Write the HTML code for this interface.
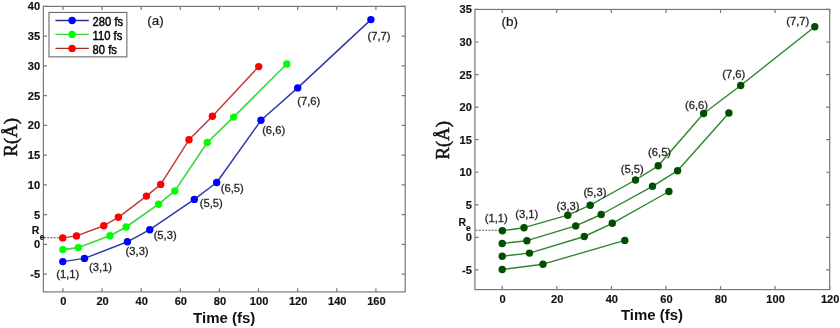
<!DOCTYPE html>
<html><head><meta charset="utf-8"><style>
html,body{margin:0;padding:0;background:#fff;}
body{width:840px;height:328px;overflow:hidden;}
svg{display:block;filter:blur(0.35px);}
text{font-family:"Liberation Sans",sans-serif;}
.tk{font-size:11.1px;font-weight:bold;fill:#111;stroke:#111;stroke-width:0.15px;}
.dl{font-size:11.2px;fill:#262626;stroke:#262626;stroke-width:0.3px;}
.lg{font-size:11.2px;fill:#000;stroke:#000;stroke-width:0.4px;}
.pl{font-size:12.95px;fill:#1a1a1a;stroke:#1a1a1a;stroke-width:0.2px;}
.xl{font-size:15px;font-weight:bold;fill:#111;}
.yl{font-family:"Liberation Serif",serif;font-size:18.7px;fill:#111;stroke:#111;stroke-width:0.5px;}
</style></head><body>
<svg width="840" height="328" viewBox="0 0 840 328">
<rect x="43.35" y="6.4" width="361.85" height="285.5" fill="none" stroke="#787878" stroke-width="1.2"/>
<path d="M62.95 291.9v-3.6M62.95 6.4v3.6M102.07 291.9v-3.6M102.07 6.4v3.6M141.19 291.9v-3.6M141.19 6.4v3.6M180.31 291.9v-3.6M180.31 6.4v3.6M219.43 291.9v-3.6M219.43 6.4v3.6M258.55 291.9v-3.6M258.55 6.4v3.6M297.67 291.9v-3.6M297.67 6.4v3.6M336.79 291.9v-3.6M336.79 6.4v3.6M375.91 291.9v-3.6M375.91 6.4v3.6M43.35 274.15h3.6M405.2 274.15h-3.6M43.35 244.4h3.6M405.2 244.4h-3.6M43.35 214.65h3.6M405.2 214.65h-3.6M43.35 184.9h3.6M405.2 184.9h-3.6M43.35 155.15h3.6M405.2 155.15h-3.6M43.35 125.4h3.6M405.2 125.4h-3.6M43.35 95.65h3.6M405.2 95.65h-3.6M43.35 65.9h3.6M405.2 65.9h-3.6M43.35 36.15h3.6M405.2 36.15h-3.6M43.35 6.4h3.6M405.2 6.4h-3.6" stroke="#787878" stroke-width="1.2" fill="none"/>
<text class="tk" transform="translate(63.45 305.2) scale(1 1.06)" text-anchor="middle">0</text>
<text class="tk" transform="translate(102.57 305.2) scale(1 1.06)" text-anchor="middle">20</text>
<text class="tk" transform="translate(141.69 305.2) scale(1 1.06)" text-anchor="middle">40</text>
<text class="tk" transform="translate(180.81 305.2) scale(1 1.06)" text-anchor="middle">60</text>
<text class="tk" transform="translate(219.93 305.2) scale(1 1.06)" text-anchor="middle">80</text>
<text class="tk" transform="translate(259.05 305.2) scale(1 1.06)" text-anchor="middle">100</text>
<text class="tk" transform="translate(298.17 305.2) scale(1 1.06)" text-anchor="middle">120</text>
<text class="tk" transform="translate(337.29 305.2) scale(1 1.06)" text-anchor="middle">140</text>
<text class="tk" transform="translate(376.41 305.2) scale(1 1.06)" text-anchor="middle">160</text>
<text class="tk" transform="translate(40.1 278.15) scale(1 1.06)" text-anchor="end">-5</text>
<text class="tk" transform="translate(40.1 248.4) scale(1 1.06)" text-anchor="end">0</text>
<text class="tk" transform="translate(40.1 218.65) scale(1 1.06)" text-anchor="end">5</text>
<text class="tk" transform="translate(40.1 188.9) scale(1 1.06)" text-anchor="end">10</text>
<text class="tk" transform="translate(40.1 159.15) scale(1 1.06)" text-anchor="end">15</text>
<text class="tk" transform="translate(40.1 129.4) scale(1 1.06)" text-anchor="end">20</text>
<text class="tk" transform="translate(40.1 99.65) scale(1 1.06)" text-anchor="end">25</text>
<text class="tk" transform="translate(40.1 69.9) scale(1 1.06)" text-anchor="end">30</text>
<text class="tk" transform="translate(40.1 40.15) scale(1 1.06)" text-anchor="end">35</text>
<text class="tk" transform="translate(40.1 10.4) scale(1 1.06)" text-anchor="end">40</text>
<line x1="44" y1="237.8" x2="62" y2="237.8" stroke="#555" stroke-width="1.05" stroke-dasharray="2 1.2"/>
<polyline points="62.8,261.6 84.5,258.4 127.4,241.8 149.8,229.7 194.3,199.4 216.7,182.5 261,120.3 297.7,87.9 370.9,19.6" fill="none" stroke="#2c3aa8" stroke-width="1.45" stroke-linejoin="round"/>
<circle cx="62.8" cy="261.6" r="3.7" fill="#0000ff"/>
<circle cx="84.5" cy="258.4" r="3.7" fill="#0000ff"/>
<circle cx="127.4" cy="241.8" r="3.7" fill="#0000ff"/>
<circle cx="149.8" cy="229.7" r="3.7" fill="#0000ff"/>
<circle cx="194.3" cy="199.4" r="3.7" fill="#0000ff"/>
<circle cx="216.7" cy="182.5" r="3.7" fill="#0000ff"/>
<circle cx="261" cy="120.3" r="3.7" fill="#0000ff"/>
<circle cx="297.7" cy="87.9" r="3.7" fill="#0000ff"/>
<circle cx="370.9" cy="19.6" r="3.7" fill="#0000ff"/>
<polyline points="62.8,249.6 78.4,247.6 110,235.8 126.1,227 158.6,204.2 174.8,190.9 207.3,142.5 233.6,117.1 286.8,64" fill="none" stroke="#3ad83a" stroke-width="1.6" stroke-linejoin="round"/>
<circle cx="62.8" cy="249.6" r="3.7" fill="#00ff00"/>
<circle cx="78.4" cy="247.6" r="3.7" fill="#00ff00"/>
<circle cx="110" cy="235.8" r="3.7" fill="#00ff00"/>
<circle cx="126.1" cy="227" r="3.7" fill="#00ff00"/>
<circle cx="158.6" cy="204.2" r="3.7" fill="#00ff00"/>
<circle cx="174.8" cy="190.9" r="3.7" fill="#00ff00"/>
<circle cx="207.3" cy="142.5" r="3.7" fill="#00ff00"/>
<circle cx="233.6" cy="117.1" r="3.7" fill="#00ff00"/>
<circle cx="286.8" cy="64" r="3.7" fill="#00ff00"/>
<polyline points="62.7,237.9 76.5,235.9 103.8,225.7 118.4,217.3 146.4,196.1 160.7,184.4 189,139.8 212.4,116.2 258.7,66.6" fill="none" stroke="#bf3a3a" stroke-width="1.45" stroke-linejoin="round"/>
<circle cx="62.7" cy="237.9" r="3.7" fill="#ff0000"/>
<circle cx="76.5" cy="235.9" r="3.7" fill="#ff0000"/>
<circle cx="103.8" cy="225.7" r="3.7" fill="#ff0000"/>
<circle cx="118.4" cy="217.3" r="3.7" fill="#ff0000"/>
<circle cx="146.4" cy="196.1" r="3.7" fill="#ff0000"/>
<circle cx="160.7" cy="184.4" r="3.7" fill="#ff0000"/>
<circle cx="189" cy="139.8" r="3.7" fill="#ff0000"/>
<circle cx="212.4" cy="116.2" r="3.7" fill="#ff0000"/>
<circle cx="258.7" cy="66.6" r="3.7" fill="#ff0000"/>
<text class="dl" x="67.7" y="278.35" text-anchor="middle">(1,1)</text>
<text class="dl" x="100.6" y="270.7" text-anchor="middle">(3,1)</text>
<text class="dl" x="137.1" y="254.65" text-anchor="middle">(3,3)</text>
<text class="dl" x="165.15" y="238.8" text-anchor="middle">(5,3)</text>
<text class="dl" x="211.25" y="207.15" text-anchor="middle">(5,5)</text>
<text class="dl" x="232.3" y="192.1" text-anchor="middle">(6,5)</text>
<text class="dl" x="273.65" y="133.55" text-anchor="middle">(6,6)</text>
<text class="dl" x="308.75" y="104.75" text-anchor="middle">(7,6)</text>
<text class="dl" x="379.05" y="39.5" text-anchor="middle">(7,7)</text>
<text class="tk" transform="translate(31.8 233.8) scale(1 1.06)" style="font-size:10.5px">R</text>
<text class="tk" transform="translate(39.8 239.8) scale(1 1.06)" style="font-size:8.5px">e</text>
<rect x="49" y="12.45" width="77.85" height="44.4" fill="#fff" stroke="#6a6a6a" stroke-width="1.1"/>
<line x1="55.4" y1="20.5" x2="88.8" y2="20.5" stroke="#2a3390" stroke-width="1.4"/>
<circle cx="72.1" cy="20.5" r="3.7" fill="#0000ff"/>
<text class="lg" transform="translate(92.6 25.65) scale(1 1.06)">280 fs</text>
<line x1="55.4" y1="34.4" x2="88.8" y2="34.4" stroke="#38d838" stroke-width="1.4"/>
<circle cx="72.1" cy="34.4" r="3.7" fill="#00ff00"/>
<text class="lg" transform="translate(92.6 39.55) scale(1 1.06)">110 fs</text>
<line x1="55.4" y1="48.4" x2="88.8" y2="48.4" stroke="#a82a2a" stroke-width="1.4"/>
<circle cx="72.1" cy="48.4" r="3.7" fill="#ff0000"/>
<text class="lg" transform="translate(92.6 53.55) scale(1 1.06)">80 fs</text>
<text class="pl" transform="translate(147.3 24.5) scale(1.04 1)">(a)</text>
<text class="xl" transform="translate(224.2 322.7) scale(1 1.03)" text-anchor="middle">Time (fs)</text>
<text class="yl" transform="translate(16.85,156.4) rotate(-90)">R(Å)</text>
<rect x="474.95" y="9.45" width="354.75" height="280.15" fill="none" stroke="#787878" stroke-width="1.2"/>
<path d="M502.2 289.6v-3.6M502.2 9.45v3.6M556.78 289.6v-3.6M556.78 9.45v3.6M611.36 289.6v-3.6M611.36 9.45v3.6M665.94 289.6v-3.6M665.94 9.45v3.6M720.52 289.6v-3.6M720.52 9.45v3.6M775.1 289.6v-3.6M775.1 9.45v3.6M829.68 289.6v-3.6M829.68 9.45v3.6M474.95 269.9h3.6M829.7 269.9h-3.6M474.95 237.35h3.6M829.7 237.35h-3.6M474.95 204.79h3.6M829.7 204.79h-3.6M474.95 172.24h3.6M829.7 172.24h-3.6M474.95 139.69h3.6M829.7 139.69h-3.6M474.95 107.13h3.6M829.7 107.13h-3.6M474.95 74.57h3.6M829.7 74.57h-3.6M474.95 42.02h3.6M829.7 42.02h-3.6M474.95 9.47h3.6M829.7 9.47h-3.6" stroke="#787878" stroke-width="1.2" fill="none"/>
<text class="tk" transform="translate(502.7 302.7) scale(1 1.06)" text-anchor="middle">0</text>
<text class="tk" transform="translate(557.28 302.7) scale(1 1.06)" text-anchor="middle">20</text>
<text class="tk" transform="translate(611.86 302.7) scale(1 1.06)" text-anchor="middle">40</text>
<text class="tk" transform="translate(666.44 302.7) scale(1 1.06)" text-anchor="middle">60</text>
<text class="tk" transform="translate(721.02 302.7) scale(1 1.06)" text-anchor="middle">80</text>
<text class="tk" transform="translate(775.6 302.7) scale(1 1.06)" text-anchor="middle">100</text>
<text class="tk" transform="translate(830.18 302.7) scale(1 1.06)" text-anchor="middle">120</text>
<text class="tk" transform="translate(471.85 273.9) scale(1 1.06)" text-anchor="end">-5</text>
<text class="tk" transform="translate(471.85 241.35) scale(1 1.06)" text-anchor="end">0</text>
<text class="tk" transform="translate(471.85 208.79) scale(1 1.06)" text-anchor="end">5</text>
<text class="tk" transform="translate(471.85 176.24) scale(1 1.06)" text-anchor="end">10</text>
<text class="tk" transform="translate(471.85 143.69) scale(1 1.06)" text-anchor="end">15</text>
<text class="tk" transform="translate(471.85 111.13) scale(1 1.06)" text-anchor="end">20</text>
<text class="tk" transform="translate(471.85 78.57) scale(1 1.06)" text-anchor="end">25</text>
<text class="tk" transform="translate(471.85 46.02) scale(1 1.06)" text-anchor="end">30</text>
<text class="tk" transform="translate(471.85 13.47) scale(1 1.06)" text-anchor="end">35</text>
<line x1="475.6" y1="230.2" x2="501" y2="230.2" stroke="#555" stroke-width="1.05" stroke-dasharray="2 1.2"/>
<polyline points="502.4,230.7 524,227.7 567.8,215.2 590.2,205.2 635.5,180 658.2,165.8 703.6,113.5 740.7,85.5 814.8,26.7" fill="none" stroke="#2d862d" stroke-width="1.4" stroke-linejoin="round"/>
<circle cx="502.4" cy="230.7" r="3.7" fill="#004f00"/>
<circle cx="524" cy="227.7" r="3.7" fill="#004f00"/>
<circle cx="567.8" cy="215.2" r="3.7" fill="#004f00"/>
<circle cx="590.2" cy="205.2" r="3.7" fill="#004f00"/>
<circle cx="635.5" cy="180" r="3.7" fill="#004f00"/>
<circle cx="658.2" cy="165.8" r="3.7" fill="#004f00"/>
<circle cx="703.6" cy="113.5" r="3.7" fill="#004f00"/>
<circle cx="740.7" cy="85.5" r="3.7" fill="#004f00"/>
<circle cx="814.8" cy="26.7" r="3.7" fill="#004f00"/>
<polyline points="502.2,243.5 526.9,240.7 575.7,225.9 601.2,214.5 652.5,186.3 677.6,170.7 728.9,113" fill="none" stroke="#2d862d" stroke-width="1.4" stroke-linejoin="round"/>
<circle cx="502.2" cy="243.5" r="3.7" fill="#004f00"/>
<circle cx="526.9" cy="240.7" r="3.7" fill="#004f00"/>
<circle cx="575.7" cy="225.9" r="3.7" fill="#004f00"/>
<circle cx="601.2" cy="214.5" r="3.7" fill="#004f00"/>
<circle cx="652.5" cy="186.3" r="3.7" fill="#004f00"/>
<circle cx="677.6" cy="170.7" r="3.7" fill="#004f00"/>
<circle cx="728.9" cy="113" r="3.7" fill="#004f00"/>
<polyline points="502.2,256.2 529.5,253.1 584.3,236.5 612.3,223.3 668.9,191.5" fill="none" stroke="#2d862d" stroke-width="1.4" stroke-linejoin="round"/>
<circle cx="502.2" cy="256.2" r="3.7" fill="#004f00"/>
<circle cx="529.5" cy="253.1" r="3.7" fill="#004f00"/>
<circle cx="584.3" cy="236.5" r="3.7" fill="#004f00"/>
<circle cx="612.3" cy="223.3" r="3.7" fill="#004f00"/>
<circle cx="668.9" cy="191.5" r="3.7" fill="#004f00"/>
<polyline points="502.2,269.5 543,264.2 624.8,240.4" fill="none" stroke="#2d862d" stroke-width="1.4" stroke-linejoin="round"/>
<circle cx="502.2" cy="269.5" r="3.7" fill="#004f00"/>
<circle cx="543" cy="264.2" r="3.7" fill="#004f00"/>
<circle cx="624.8" cy="240.4" r="3.7" fill="#004f00"/>
<text class="dl" x="496.3" y="221.5" text-anchor="middle">(1,1)</text>
<text class="dl" x="526.8" y="218.15" text-anchor="middle">(3,1)</text>
<text class="dl" x="568" y="209.75" text-anchor="middle">(3,3)</text>
<text class="dl" x="594.9" y="196.05" text-anchor="middle">(5,3)</text>
<text class="dl" x="632.2" y="172.75" text-anchor="middle">(5,5)</text>
<text class="dl" x="659.6" y="155.65" text-anchor="middle">(6,5)</text>
<text class="dl" x="696.5" y="108.85" text-anchor="middle">(6,6)</text>
<text class="dl" x="733.8" y="78.2" text-anchor="middle">(7,6)</text>
<text class="dl" x="797.75" y="25.05" text-anchor="middle">(7,7)</text>
<text class="tk" transform="translate(458.6 225.7) scale(1 1.06)" style="font-size:10.5px">R</text>
<text class="tk" transform="translate(465.9 231) scale(1 1.06)" style="font-size:8.5px">e</text>
<text class="pl" transform="translate(501.5 26.2) scale(1.04 1)">(b)</text>
<text class="xl" transform="translate(652 320.3) scale(1 1.03)" text-anchor="middle">Time (fs)</text>
<text class="yl" transform="translate(449.05,159.4) rotate(-90)">R(Å)</text>
</svg>
</body></html>
